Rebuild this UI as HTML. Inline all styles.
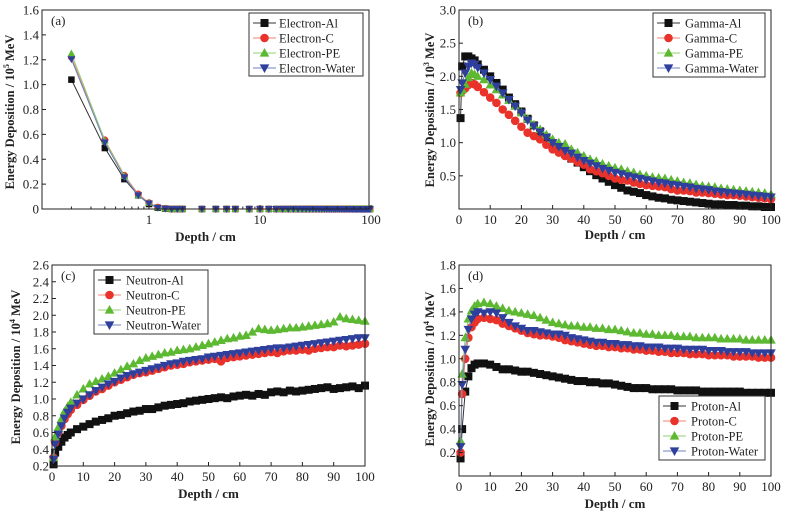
<!DOCTYPE html>
<html><head><meta charset="utf-8"><style>
html,body{margin:0;padding:0;background:#fff;}
svg{display:block;font-family:"Liberation Serif",serif;}
</style></head><body>
<svg id="fig" width="786" height="514" viewBox="0 0 786 514"></svg>
<script>
// ---- data ----
const depths = [0.5,1,2,3,4,5,6,8,10,12,14,16,18,20,22,24,26,28,30,32,34,36,38,40,42,44,46,48,50,52,54,56,58,60,62,64,66,68,70,72,74,76,78,80,82,84,86,88,90,92,94,96,98,100];
const depthsElectron = [0.2,0.4,0.6,0.8,1.0,1.2,1.4,1.6,1.8,2.0,3,4,5,6,8,10,12,14,16,18,20,22,24,26,28,30,32,34,36,38,40,42,44,46,48,50,52,54,56,58,60,62,64,66,68,70,72,74,76,78,80,82,84,86,88,90,92,94,96,98];
const electronTail = [0,0,0,0,0,0,0,0,0,0,0,0,0,0,0,0,0,0,0,0,0,0,0,0,0,0,0,0,0,0,0,0,0,0,0,0,0,0,0,0,0,0,0,0,0,0,0,0,0,0];
const electronAl = [1.04,0.49,0.24,0.11,0.04,0.01,0.003,0,0,0].concat(electronTail);
const electronC = [1.22,0.555,0.27,0.12,0.05,0.015,0.005,0,0,0].concat(electronTail);
const electronPE = [1.25,0.55,0.265,0.11,0.05,0.012,0.004,0,0,0].concat(electronTail);
const electronWater = [1.205,0.535,0.255,0.11,0.045,0.01,0.003,0,0,0].concat(electronTail);

const gammaAl = [1.37,2.15,2.30,2.30,2.27,2.24,2.18, 2.10,2.00,1.90,1.80,1.68,1.58,1.47,1.36,1.26,1.17, 1.08,0.99,0.91,0.83,0.76,0.70,0.63,0.57,0.51,0.46, 0.41,0.36,0.32,0.28,0.26,0.24,0.21,0.19,0.17,0.16, 0.14,0.13,0.12,0.11,0.10,0.09,0.08,0.07,0.07,0.06, 0.06,0.05,0.05,0.04,0.04,0.03,0.03];
const gammaC = [1.75,1.78,1.82,1.87,1.90,1.88,1.84, 1.76,1.68,1.60,1.50,1.42,1.33,1.24,1.15,1.10,1.05, 0.97,0.90,0.85,0.80,0.76,0.71,0.67,0.60,0.57,0.54, 0.50,0.46,0.44,0.43,0.40,0.38,0.36,0.35,0.34,0.33, 0.30,0.28,0.28,0.27,0.25,0.25,0.24,0.23,0.22,0.21, 0.21,0.20,0.19,0.18,0.17,0.16,0.15];
const gammaPE = [1.75,1.80,1.88,1.98,2.05,2.03,2.00, 1.95,1.87,1.80,1.72,1.64,1.55,1.45,1.36,1.27,1.20, 1.12,1.05,1.00,0.98,0.90,0.85,0.80,0.75,0.72,0.68, 0.65,0.62,0.60,0.57,0.55,0.52,0.50,0.48,0.47,0.46, 0.44,0.42,0.40,0.39,0.37,0.35,0.34,0.33,0.31,0.30, 0.29,0.28,0.27,0.26,0.25,0.24,0.22];
const gammaWater = [1.80,1.90,2.05,2.15,2.20,2.18,2.13, 2.05,1.95,1.85,1.75,1.65,1.55,1.45,1.34,1.25,1.16, 1.08,1.00,0.94,0.88,0.84,0.78,0.73,0.69,0.65,0.61, 0.58,0.55,0.53,0.50,0.48,0.46,0.44,0.42,0.40,0.39, 0.37,0.36,0.34,0.33,0.31,0.30,0.29,0.27,0.26,0.25, 0.24,0.23,0.22,0.21,0.20,0.19,0.18];

const neutronAl = [0.22,0.36,0.43,0.49,0.54,0.57,0.60, 0.64,0.67,0.70,0.73,0.75,0.77,0.80,0.81,0.83,0.85, 0.86,0.88,0.88,0.90,0.92,0.93,0.94,0.95,0.97,0.98, 0.99,1.00,1.01,1.02,1.01,1.03,1.04,1.05,1.04,1.06, 1.05,1.08,1.09,1.08,1.10,1.09,1.10,1.11,1.12,1.13, 1.14,1.12,1.13,1.14,1.15,1.13,1.16];
const neutronC = [0.30,0.48,0.60,0.68,0.76,0.82,0.87, 0.93,0.99,1.04,1.09,1.12,1.16,1.20,1.23,1.26,1.29, 1.31,1.32,1.34,1.36,1.38,1.40,1.41,1.42,1.44,1.45, 1.46,1.47,1.48,1.45,1.49,1.50,1.51,1.52,1.53,1.54, 1.55,1.56,1.55,1.57,1.58,1.58,1.59,1.58,1.60,1.61, 1.62,1.62,1.64,1.63,1.64,1.65,1.66];
const neutronPE = [0.30,0.55,0.66,0.76,0.85,0.91,0.96, 1.05,1.12,1.18,1.21,1.24,1.27,1.31,1.35,1.39,1.42, 1.46,1.49,1.51,1.53,1.55,1.56,1.58,1.59,1.60,1.62, 1.64,1.66,1.68,1.70,1.72,1.73,1.75,1.76,1.80,1.84, 1.83,1.82,1.83,1.84,1.85,1.85,1.86,1.87,1.88,1.89, 1.90,1.92,1.98,1.96,1.95,1.94,1.93];
const neutronWater = [0.28,0.46,0.58,0.68,0.77,0.84,0.89, 0.95,1.00,1.05,1.10,1.14,1.18,1.21,1.25,1.28,1.30, 1.32,1.34,1.36,1.38,1.40,1.42,1.43,1.45,1.46,1.47, 1.48,1.50,1.51,1.52,1.53,1.54,1.55,1.56,1.57,1.58, 1.59,1.60,1.61,1.61,1.62,1.63,1.64,1.65,1.66,1.67, 1.68,1.69,1.70,1.71,1.72,1.73,1.73];

const protonAl = [0.15,0.40,0.72,0.85,0.92,0.95,0.96, 0.96,0.95,0.93,0.91,0.91,0.90,0.89,0.89,0.88,0.87, 0.86,0.85,0.84,0.83,0.82,0.81,0.81,0.80,0.80,0.79, 0.79,0.78,0.77,0.76,0.75,0.75,0.75,0.74,0.74,0.74, 0.74,0.73,0.73,0.73,0.73,0.72,0.72,0.72,0.72,0.72, 0.72,0.72,0.71,0.71,0.71,0.71,0.71];
const protonC = [0.20,0.70,1.00,1.18,1.27,1.31,1.34, 1.35,1.34,1.33,1.30,1.28,1.26,1.24,1.22,1.21,1.20, 1.20,1.19,1.18,1.16,1.15,1.14,1.13,1.12,1.11,1.11, 1.10,1.10,1.09,1.09,1.08,1.08,1.07,1.07,1.06,1.06, 1.05,1.05,1.05,1.04,1.04,1.04,1.03,1.03,1.03,1.03, 1.02,1.02,1.02,1.02,1.01,1.01,1.01];
const protonPE = [0.30,0.87,1.18,1.34,1.41,1.45,1.47, 1.48,1.47,1.45,1.43,1.41,1.40,1.39,1.38,1.37,1.35, 1.33,1.31,1.30,1.29,1.28,1.28,1.27,1.27,1.26,1.26, 1.25,1.25,1.24,1.23,1.22,1.22,1.21,1.21,1.20,1.20, 1.20,1.19,1.19,1.19,1.18,1.18,1.18,1.18,1.17,1.17, 1.17,1.17,1.16,1.16,1.16,1.16,1.16];
const protonWater = [0.25,0.78,1.08,1.25,1.34,1.38,1.40, 1.39,1.40,1.39,1.35,1.31,1.28,1.26,1.24,1.24,1.23, 1.22,1.21,1.21,1.20,1.18,1.17,1.16,1.15,1.14,1.14, 1.13,1.13,1.12,1.12,1.11,1.11,1.10,1.10,1.10,1.09, 1.09,1.09,1.08,1.08,1.08,1.08,1.07,1.07,1.07,1.06, 1.06,1.06,1.06,1.05,1.05,1.05,1.05];

const ticksA_y = [0,0.2,0.4,0.6,0.8,1.0,1.2,1.4,1.6];
const ticksA_yLabels = ["0","0.2","0.4","0.6","0.8","1.0","1.2","1.4","1.6"];
const ticksA_x = [1,10,100];
const ticksB_y = [0.5,1.0,1.5,2.0,2.5,3.0];
const ticksC_y = [0.2,0.4,0.6,0.8,1.0,1.2,1.4,1.6,1.8,2.0,2.2,2.4,2.6];
const ticksD_y = [0.2,0.4,0.6,0.8,1.0,1.2,1.4,1.6,1.8];
const ticksLin_x = [0,10,20,30,40,50,60,70,80,90,100];

const COLORS = {Al:"#111111", C:"#e8322a", PE:"#5db832", Water:"#2f3f9c"};
const LINECOLORS = {Al:"#333333", C:"#f08070", PE:"#90d070", Water:"#7080c0"};
const NS = "http://www.w3.org/2000/svg";
const svg = document.getElementById('fig');

function mk(tag, attrs, parent) {
  const e = document.createElementNS(NS, tag);
  for (const k in attrs) e.setAttribute(k, attrs[k]);
  (parent || svg).appendChild(e);
  return e;
}

function marker(g, kind, x, y, s) {
  let e;
  if (kind === 'Al') e = mk('rect', {x: x - s/2, y: y - s/2, width: s, height: s, fill: COLORS.Al}, g);
  else if (kind === 'C') e = mk('circle', {cx: x, cy: y, r: s/2 + 0.3, fill: COLORS.C}, g);
  else if (kind === 'PE') e = mk('polygon', {points: `${x},${y - s*0.62} ${x - s*0.6},${y + s*0.45} ${x + s*0.6},${y + s*0.45}`, fill: COLORS.PE}, g);
  else e = mk('polygon', {points: `${x},${y + s*0.62} ${x - s*0.6},${y - s*0.45} ${x + s*0.6},${y - s*0.45}`, fill: COLORS.Water}, g);
  return e;
}

function panel(cfg) {
  const g = mk('g', {});
  
  
  const {L, R, T, B} = cfg;
  const xs = cfg.xScale, ys = v => B - (v - cfg.yMin) / (cfg.yMax - cfg.yMin) * (B - T);
  const sg = mk('g', {}, g);
  
  
  cfg.series.forEach(s => {
    const pts = s.values.map((v, i) => [xs(s.x[i]), ys(v)]);
    const line = mk('polyline', {points: pts.map(p => p.join(',')).join(' '), fill: 'none', stroke: LINECOLORS[s.kind], 'stroke-width': 1}, sg);
    
    
    pts.forEach(p => {
      const m = marker(sg, s.kind, p[0], p[1], cfg.ms);
      
      
    });
  });
  const fr = mk('rect', {x: L, y: T, width: R - L, height: B - T, fill: 'none', stroke: '#222', 'stroke-width': 1}, g);
  
  
  cfg.yTicks.forEach((v, i) => {
    const y = ys(v);
    mk('line', {x1: L, x2: L + 4, y1: y, y2: y, stroke: '#222'}, g);
    const t = mk('text', {x: L - 3, y: y + 4.5, 'text-anchor': 'end', 'font-size': 13, fill: '#222'}, g);
    t.textContent = cfg.yLabels ? cfg.yLabels[i] : v.toFixed(1);
    
    
  });
  cfg.xTicks.forEach(v => {
    const x = xs(v);
    mk('line', {x1: x, x2: x, y1: B, y2: B - 4, stroke: '#222'}, g);
    const t = mk('text', {x: x, y: B + 15, 'text-anchor': 'middle', 'font-size': 13, fill: '#222'}, g);
    t.textContent = String(v);
    
    
  });
  (cfg.minorX || []).forEach(v => {
    const x = xs(v);
    if (x > L && x < R) mk('line', {x1: x, x2: x, y1: B, y2: B - 2.5, stroke: '#222'}, g);
  });
  const xt = mk('text', {x: (L + R) / 2, y: cfg.xTitleY, 'text-anchor': 'middle', 'font-size': 13, 'font-weight': 'bold', fill: '#222'}, g);
  xt.textContent = 'Depth / cm';
  
  
  const yt = mk('text', {x: 0, y: 0, 'text-anchor': 'middle', 'font-size': 12.5, 'font-weight': 'bold', fill: '#222', transform: `translate(${cfg.yTitleX},${cfg.yTitleY}) rotate(-90)`}, g);
  
  
  const t1 = mk('tspan', {}, yt); t1.textContent = 'Energy Deposition / 10';
  const t2 = mk('tspan', {dy: -5, 'font-size': 8}, yt); t2.textContent = cfg.exp;
  const t3 = mk('tspan', {dy: 5}, yt); t3.textContent = ' MeV';
  const pl = mk('text', {x: L + 9, y: T + 15, 'font-size': 13, fill: '#222'}, g);
  pl.textContent = cfg.tag;
  
  
  const lg = cfg.legend;
  const lgG = mk('g', {}, g);
  
  
  mk('rect', {x: lg.x, y: lg.y, width: lg.w, height: lg.h, fill: '#fff', stroke: '#333', 'stroke-width': 1}, lgG);
  cfg.series.forEach((s, i) => {
    const y = lg.y + 10 + i * 15;
    const eg = mk('g', {}, lgG);
    
    
    mk('line', {x1: lg.x + 4, x2: lg.x + 27, y1: y, y2: y, stroke: LINECOLORS[s.kind]}, eg);
    marker(eg, s.kind, lg.x + 15.5, y, 8);
    const t = mk('text', {x: lg.x + lg.tx, y: y + 4.5, 'font-size': 12.5, fill: '#222'}, eg);
    t.textContent = s.label;
  });
}

function ser(prefix, x, al, c, pe, w) {
  return [
    {kind: 'Al', label: prefix + '-Al', x: x, values: al},
    {kind: 'C', label: prefix + '-C', x: x, values: c},
    {kind: 'PE', label: prefix + '-PE', x: x, values: pe},
    {kind: 'Water', label: prefix + '-Water', x: x, values: w}
  ];
}

const minorLog = [];
[0.1, 1, 10].forEach(d => { for (let k = 2; k <= 9; k++) minorLog.push(k * d); });

panel({name: 'panel-a-electron', tag: '(a)', L: 42, R: 369, T: 10, B: 209, yMin: 0, yMax: 1.6,
  xScale: v => 149 + Math.log10(v) * 111, yTicks: ticksA_y, yLabels: ticksA_yLabels, xTicks: ticksA_x, minorX: minorLog,
  xTitleY: 241, yTitleX: 14, yTitleY: 112, exp: '5', ms: 6.5,
  legend: {x: 249, y: 13, w: 114, h: 63, tx: 30},
  series: ser('Electron', depthsElectron, electronAl, electronC, electronPE, electronWater)});

panel({name: 'panel-b-gamma', tag: '(b)', L: 459, R: 771, T: 10, B: 209, yMin: 0, yMax: 3.0,
  xScale: v => 459 + v / 100 * 312, yTicks: ticksB_y, xTicks: ticksLin_x,
  xTitleY: 239, yTitleX: 434, yTitleY: 110, exp: '3', ms: 8,
  legend: {x: 653, y: 13, w: 112, h: 64, tx: 32},
  series: ser('Gamma', depths, gammaAl, gammaC, gammaPE, gammaWater)});

panel({name: 'panel-c-neutron', tag: '(c)', L: 52, R: 365, T: 265, B: 466, yMin: 0.2, yMax: 2.6,
  xScale: v => 52 + v / 100 * 313, yTicks: ticksC_y, xTicks: ticksLin_x,
  xTitleY: 498, yTitleX: 20, yTitleY: 367, exp: '4', ms: 8,
  legend: {x: 94, y: 270, w: 114, h: 64, tx: 32},
  series: ser('Neutron', depths, neutronAl, neutronC, neutronPE, neutronWater)});

panel({name: 'panel-d-proton', tag: '(d)', L: 459, R: 771, T: 265, B: 476, yMin: 0, yMax: 1.8,
  xScale: v => 459 + v / 100 * 312, yTicks: ticksD_y, xTicks: ticksLin_x,
  xTitleY: 508, yTitleX: 434, yTitleY: 369, exp: '4', ms: 8,
  legend: {x: 659, y: 396, w: 106, h: 64, tx: 32},
  series: ser('Proton', depths, protonAl, protonC, protonPE, protonWater)});
</script>
</body></html>
